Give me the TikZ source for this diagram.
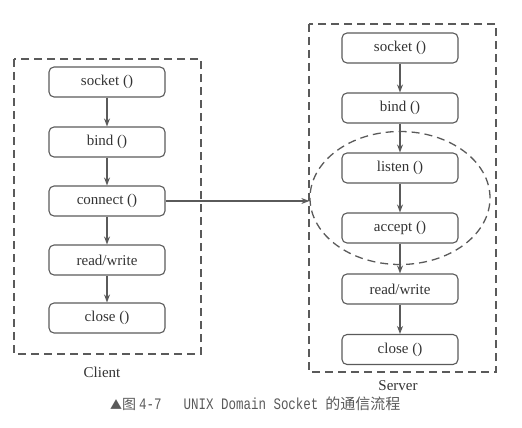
\documentclass[tikz,border=0pt]{standalone}
\usepackage{fontspec}
\setmainfont{Liberation Serif}
\newfontfamily\cjkfont{Noto Sans CJK SC}
\newfontfamily\capmono[FakeStretch=0.78]{Liberation Mono}
\usetikzlibrary{arrows.meta,shapes.geometric}
\definecolor{linegray}{HTML}{5A5A5A}
\definecolor{textgray}{HTML}{333333}
\definecolor{capgray}{HTML}{5A5A5A}
\tikzset{
  fnbox/.style={draw=linegray, line width=1.1pt, rounded corners=5pt,
    minimum width=116pt, minimum height=30pt, inner sep=0pt,
    text=textgray, font=\fontsize{15}{18}\selectfont},
  flow/.style={draw=linegray, line width=1.1pt, -{Stealth[length=8pt,width=6pt]}},
  groupbox/.style={draw=linegray, line width=1.3pt, dash pattern=on 8pt off 5pt},
  grouplabel/.style={text=textgray, font=\fontsize{15}{18}\selectfont, inner sep=0pt}
}
\begin{document}
\begin{tikzpicture}[x=1pt,y=-1pt]
\useasboundingbox (0,0) rectangle (522,428);
% client group
\draw[groupbox] (14,59) rectangle (201,354);
\node[fnbox] (csock) at (107,82) {socket ()};
\node[fnbox] (cbind) at (107,142) {bind ()};
\node[fnbox] (cconn) at (107,201) {connect ()};
\node[fnbox] (crw) at (107,260) {read/write};
\node[fnbox] (cclose) at (107,318) {close ()};
\node[grouplabel] (clabel) at (102,372) {Client};
\draw[flow] (csock) -- (cbind);
\draw[flow] (cbind) -- (cconn);
\draw[flow] (cconn) -- (crw);
\draw[flow] (crw) -- (cclose);
% server group
\draw[groupbox] (309,24) rectangle (496,372);
\node[fnbox] (ssock) at (400,48) {socket ()};
\node[fnbox] (sbind) at (400,108) {bind ()};
\node[fnbox] (slisten) at (400,168) {listen ()};
\node[fnbox] (saccept) at (400,228) {accept ()};
\node[fnbox] (srw) at (400,289) {read/write};
\node[fnbox] (sclose) at (400,349.5) {close ()};
\node[grouplabel] (slabel) at (398,386) {Server};
\node[draw=linegray, line width=1.3pt, dash pattern=on 8pt off 5pt, ellipse,
  minimum width=180pt, minimum height=133pt, inner sep=0pt] (sell) at (400,198) {};
\draw[flow] (ssock) -- (sbind);
\draw[flow] (sbind) -- (slisten);
\draw[flow] (slisten) -- (saccept);
\draw[flow] (saccept) -- (srw);
\draw[flow] (srw) -- (sclose);
% connection
\draw[flow] (cconn.east) -- (cconn.east -| sell.west);
% caption
\node[text=capgray, anchor=west, inner sep=0pt] (caption) at (110,404)
  {{\cjkfont\fontsize{12}{14}\selectfont ▲}{\cjkfont\fontsize{14}{16}\selectfont 图}\hspace{3pt}{\capmono\fontsize{16}{18}\selectfont 4-7}\hspace{22pt}{\capmono\fontsize{16}{18}\selectfont UNIX Domain Socket}\hspace{7pt}{\cjkfont\fontsize{15}{18}\selectfont 的通信流程}};
\end{tikzpicture}
\end{document}
